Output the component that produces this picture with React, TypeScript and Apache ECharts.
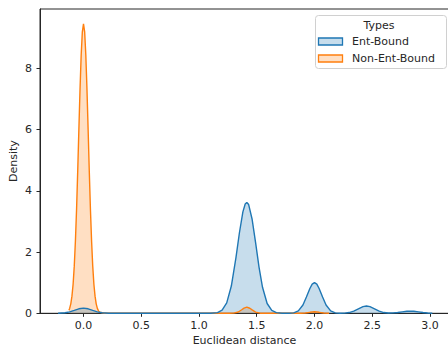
import React, { useEffect, useRef } from "react";
import * as echarts from "echarts";

// Ent-Bound KDE curve
const entX = [-0.22, -0.16, -0.12, -0.08, -0.04, 0, 0.04, 0.08, 0.12, 0.16, 0.22, 0.3, 1.08,
  1.1, 1.16, 1.2, 1.24, 1.28, 1.32, 1.35, 1.38, 1.4, 1.414, 1.43, 1.46, 1.49, 1.52, 1.55, 1.59, 1.63, 1.67, 1.72,
  1.78, 1.82, 1.86, 1.9, 1.93, 1.96, 1.98, 2.0, 2.02, 2.04, 2.07, 2.1, 2.14, 2.18, 2.22,
  2.26, 2.3, 2.34, 2.38, 2.42, 2.45, 2.48, 2.52, 2.56, 2.6, 2.64, 2.68, 2.72, 2.76, 2.8, 2.83, 2.86, 2.9, 2.94, 2.98, 3.02];
const entY = [0.002, 0.017, 0.047, 0.096, 0.147, 0.17, 0.147, 0.096, 0.047, 0.017, 0.002, 0, 0,
  0.002, 0.023, 0.1, 0.34, 0.89, 1.82, 2.63, 3.31, 3.57, 3.62, 3.55, 3.07, 2.31, 1.5, 0.85, 0.32, 0.094, 0.022, 0.003,
  0.002, 0.015, 0.078, 0.27, 0.53, 0.81, 0.95, 1.0, 0.95, 0.81, 0.53, 0.27, 0.078, 0.015, 0.003,
  0.006, 0.024, 0.07, 0.146, 0.219, 0.24, 0.219, 0.146, 0.07, 0.024, 0.01, 0.013, 0.027, 0.048, 0.065, 0.07, 0.065, 0.048, 0.027, 0.012, 0.004];

// Non-Ent-Bound KDE curve
const nonX = [-0.126, -0.12, -0.11, -0.1, -0.09, -0.08, -0.07, -0.06, -0.05, -0.04, -0.03, -0.02, -0.01, 0,
  0.01, 0.02, 0.03, 0.04, 0.05, 0.06, 0.07, 0.08, 0.09, 0.1, 0.11, 0.12, 0.13, 0.14, 0.18, 1.26,
  1.3, 1.34, 1.37, 1.39, 1.414, 1.44, 1.46, 1.49, 1.53, 1.6, 1.88, 1.92, 1.96, 2.0, 2.04, 2.08, 2.126];
const nonY = [0.1, 0.16, 0.31, 0.56, 0.95, 1.54, 2.36, 3.4, 4.65, 6.01, 7.32, 8.44, 9.19, 9.45,
  9.19, 8.44, 7.32, 6.01, 4.65, 3.4, 2.36, 1.54, 0.95, 0.56, 0.31, 0.16, 0.08, 0.037, 0, 0,
  0.005, 0.042, 0.115, 0.17, 0.2, 0.165, 0.11, 0.039, 0.004, 0, 0, 0.008, 0.032, 0.05, 0.032, 0.008, 0.0005];

const xTicks = [0, 0.5, 1.0, 1.5, 2.0, 2.5, 3.0];
const yTicks = [0, 2, 4, 6, 8];
const seriesNames = ["Ent-Bound", "Non-Ent-Bound"];
const legendTitle = "Types";

const BLUE = "#1f77b4";
const ORANGE = "#ff7f0e";
const FONT = "DejaVu Sans";
const FS = 11;

export default function App() {
  const ref = useRef<HTMLDivElement>(null);
  useEffect(() => {
    if (!ref.current) return;
    const chart = echarts.init(ref.current, undefined, { renderer: "svg" });
    const pairs = (xs: number[], ys: number[]) => xs.map((x, i) => [x, ys[i]]);
    chart.setOption({
      animation: false,
      grid: {
        left: 40, top: 9, right: -1, bottom: 35.7,
        containLabel: false, outerBoundsMode: "none",
        show: true, borderColor: "#262626", borderWidth: 1,
      },
      xAxis: {
        type: "value",
        min: -0.3766,
        max: 3.1645,
        name: "Euclidean distance",
        nameLocation: "middle",
        nameGap: 22,
        nameMoveOverlap: false,
        nameTextStyle: { fontFamily: FONT, fontSize: FS, color: "#262626", verticalAlign: "top" },
        axisLine: { show: true, onZero: false, lineStyle: { color: "#262626", width: 1 } },
        axisTick: { show: true, inside: false, length: 3.5, customValues: xTicks, lineStyle: { color: "#262626" } },
        axisLabel: { customValues: xTicks, margin: 7, fontFamily: FONT, fontSize: FS, color: "#262626", formatter: (v: number) => v.toFixed(1) },
        splitLine: { show: false },
      },
      yAxis: {
        type: "value",
        min: 0,
        max: 9.936,
        name: "Density",
        nameLocation: "middle",
        nameGap: 21,
        nameMoveOverlap: false,
        nameTextStyle: { fontFamily: FONT, fontSize: FS, color: "#262626" },
        axisLine: { show: true, onZero: false, lineStyle: { color: "#262626", width: 1 } },
        axisTick: { show: true, inside: false, length: 3.5, customValues: yTicks, lineStyle: { color: "#262626" } },
        axisLabel: { customValues: yTicks, margin: 8, fontFamily: FONT, fontSize: FS, color: "#262626", formatter: (v: number) => String(v) },
        splitLine: { show: false },
      },
      series: [
        {
          name: seriesNames[1],
          type: "line",
          data: pairs(nonX, nonY),
          showSymbol: false,
          smooth: false,
          lineStyle: { color: ORANGE, width: 1.4 },
          itemStyle: { color: ORANGE },
          areaStyle: { color: ORANGE, opacity: 0.25 },
        },
        {
          name: seriesNames[0],
          type: "line",
          data: pairs(entX, entY),
          showSymbol: false,
          smooth: false,
          lineStyle: { color: BLUE, width: 1.4 },
          itemStyle: { color: BLUE },
          areaStyle: { color: BLUE, opacity: 0.25 },
        },
      ],
      graphic: [
        {
          type: "rect",
          shape: { x: 315.5, y: 15.5, width: 131, height: 53, r: 3 },
          style: { fill: "rgba(255,255,255,0.8)", stroke: "#d0d0d0", lineWidth: 1 },
          z: 100,
        },
        {
          type: "text",
          x: 379,
          y: 25,
          style: { text: legendTitle, fontFamily: FONT, fontSize: FS, fill: "#262626", align: "center", verticalAlign: "middle" },
          z: 101,
        },
        {
          type: "rect",
          shape: { x: 318.5, y: 38, width: 24, height: 7 },
          style: { fill: "rgba(31,119,180,0.25)", stroke: BLUE, lineWidth: 1.3 },
          z: 101,
        },
        {
          type: "text",
          x: 352,
          y: 41.5,
          style: { text: seriesNames[0], fontFamily: FONT, fontSize: FS, fill: "#262626", align: "left", verticalAlign: "middle" },
          z: 101,
        },
        {
          type: "rect",
          shape: { x: 318.5, y: 55, width: 24, height: 7 },
          style: { fill: "rgba(255,127,14,0.25)", stroke: ORANGE, lineWidth: 1.3 },
          z: 101,
        },
        {
          type: "text",
          x: 352,
          y: 58.5,
          style: { text: seriesNames[1], fontFamily: FONT, fontSize: FS, fill: "#262626", align: "left", verticalAlign: "middle" },
          z: 101,
        },
      ],
    });
    return () => chart.dispose();
  }, []);
  return <div ref={ref} style={{ position: "fixed", left: 0, top: 0, width: 448, height: 349, background: "#fff" }} />;
}
